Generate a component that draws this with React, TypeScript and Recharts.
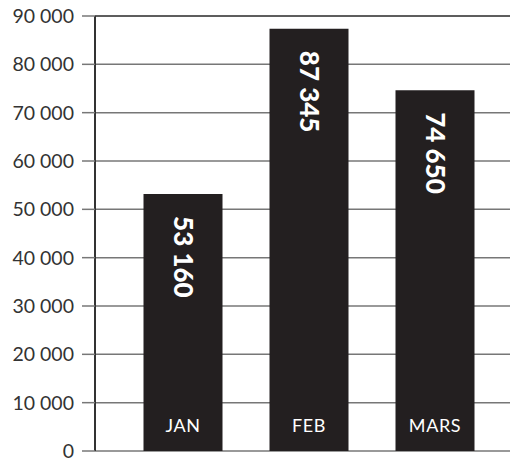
import { Bar, BarChart, CartesianGrid, LabelList, ReferenceLine, XAxis, YAxis } from 'recharts'

const months = ['JAN', 'FEB', 'MARS']
const totals = [53160, 87345, 74650]
const yTicks = [0, 10000, 20000, 30000, 40000, 50000, 60000, 70000, 80000, 90000]

const data = months.map((month, i) => ({ month, total: totals[i] }))

// 87345 -> "87 345"
const spaced = (v: number) => String(v).replace(/\B(?=(\d{3})+(?!\d))/g, ' ')

const font = 'Lato, "Open Sans", sans-serif'

function ValueLabel(props: any) {
  const { x, y, width, value } = props
  const bx = x + width / 2 - 9.5
  const by = y + 22
  return (
    <text
      x={bx}
      y={by}
      transform={`rotate(90 ${bx} ${by})`}
      fill="#fff"
      fontFamily={font}
      fontWeight={900}
      fontSize={26}
    >
      {spaced(value)}
    </text>
  )
}

function MonthLabel(props: any) {
  const { x, y, width, height, value } = props
  return (
    <text
      x={x + width / 2}
      y={y + height - 19}
      textAnchor="middle"
      fill="#fff"
      fontFamily={font}
      fontSize={18}
      letterSpacing={0.6}
    >
      {value}
    </text>
  )
}

export default function App() {
  return (
    <div style={{ position: 'absolute', left: 0, top: 0, background: '#fff' }}>
      <BarChart
        width={510}
        height={461}
        data={data}
        margin={{ top: 16, right: 0, bottom: 10, left: 0 }}
      >
        <CartesianGrid vertical={false} stroke="#777" strokeWidth={1.5} />
        <XAxis dataKey="month" hide padding={{ left: 24.5, right: 12.5 }} />
        <YAxis
          width={95}
          domain={[0, 90000]}
          ticks={yTicks}
          interval={0}
          tickFormatter={spaced}
          tickSize={13}
          tickMargin={8}
          tickLine={{ stroke: '#777', strokeWidth: 1.5 }}
          axisLine={{ stroke: '#333', strokeWidth: 2 }}
          tick={{ fill: '#333', fontSize: 19.5, fontFamily: font }}
        />
        <ReferenceLine y={90000} stroke="#222" strokeWidth={1} />
        <Bar dataKey="total" fill="#231f20" barSize={79} isAnimationActive={false}>
          <LabelList dataKey="total" content={<ValueLabel />} />
          <LabelList dataKey="month" content={<MonthLabel />} />
        </Bar>
      </BarChart>
    </div>
  )
}
